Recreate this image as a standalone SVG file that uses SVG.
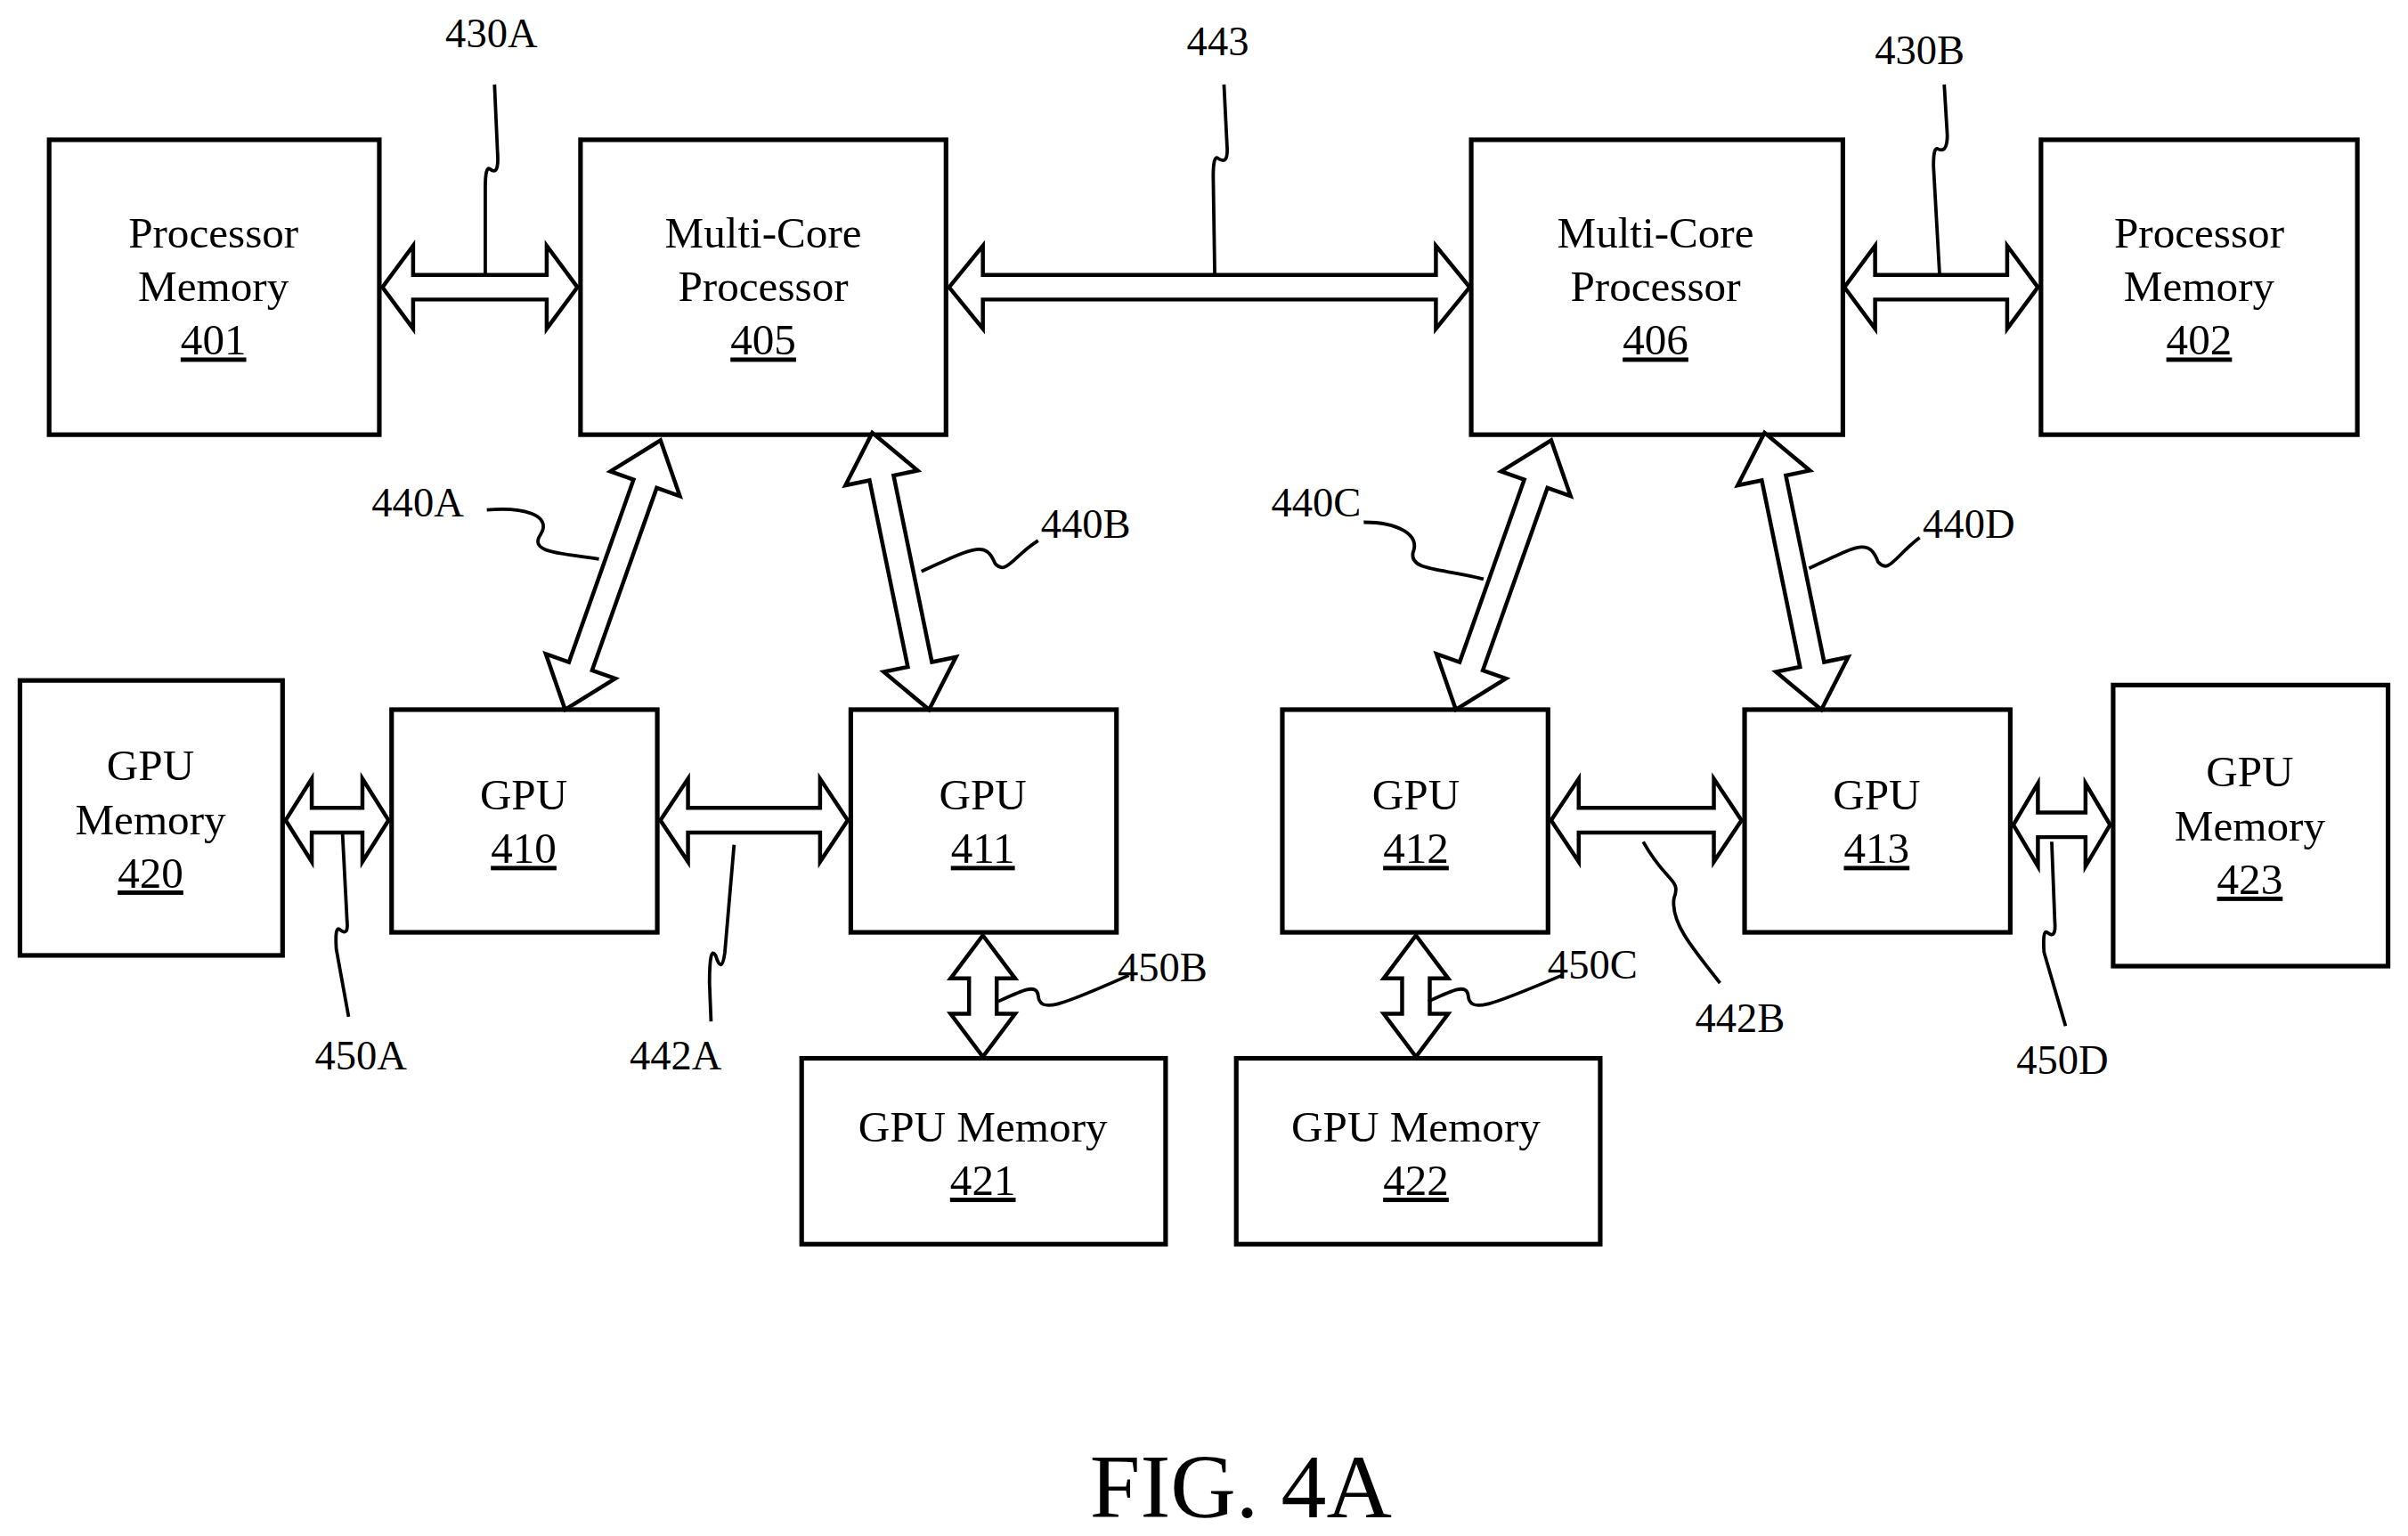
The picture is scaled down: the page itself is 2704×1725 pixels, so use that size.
<svg xmlns="http://www.w3.org/2000/svg" width="2704" height="1725" viewBox="0 0 2704 1725">
<style>
.b{fill:#fff;stroke:#000;stroke-width:3}
.a{fill:#fff;stroke:#000;stroke-width:2.6;stroke-linejoin:miter}
.l{fill:none;stroke:#000;stroke-width:2.2}
text{font-family:"Liberation Serif","Times New Roman",serif;font-size:28.5px;text-anchor:middle;fill:#000}
.n{font-size:27px}
</style>
<rect width="2704" height="1725" fill="#fff"/>
<g transform="scale(1.7245,1.725)">
<g id="n401"><rect class="b" x="32" y="91" width="215" height="192"/><text x="139" y="161">Processor</text><text x="139" y="196">Memory</text><text x="139" y="231" text-decoration="underline">401</text></g>
<g id="n405"><rect class="b" x="378" y="91" width="238" height="192"/><text x="497" y="161">Multi-Core</text><text x="497" y="196">Processor</text><text x="497" y="231" text-decoration="underline">405</text></g>
<g id="n406"><rect class="b" x="958" y="91" width="242" height="192"/><text x="1078" y="161">Multi-Core</text><text x="1078" y="196">Processor</text><text x="1078" y="231" text-decoration="underline">406</text></g>
<g id="n402"><rect class="b" x="1329" y="91" width="206" height="192"/><text x="1432" y="161">Processor</text><text x="1432" y="196">Memory</text><text x="1432" y="231" text-decoration="underline">402</text></g>
<g id="n420"><rect class="b" x="13" y="443" width="171" height="179"/><text x="98" y="508">GPU</text><text x="98" y="543">Memory</text><text x="98" y="578" text-decoration="underline">420</text></g>
<g id="n410"><rect class="b" x="255" y="462" width="173" height="145"/><text x="341" y="527">GPU</text><text x="341" y="562" text-decoration="underline">410</text></g>
<g id="n411"><rect class="b" x="554" y="462" width="173" height="145"/><text x="640" y="527">GPU</text><text x="640" y="562" text-decoration="underline">411</text></g>
<g id="n412"><rect class="b" x="835" y="462" width="173" height="145"/><text x="922" y="527">GPU</text><text x="922" y="562" text-decoration="underline">412</text></g>
<g id="n413"><rect class="b" x="1136" y="462" width="173" height="145"/><text x="1222" y="527">GPU</text><text x="1222" y="562" text-decoration="underline">413</text></g>
<g id="n423"><rect class="b" x="1376" y="446" width="179" height="183"/><text x="1465" y="512">GPU</text><text x="1465" y="547">Memory</text><text x="1465" y="582" text-decoration="underline">423</text></g>
<g id="n421"><rect class="b" x="522" y="689" width="237" height="121"/><text x="640" y="743">GPU Memory</text><text x="640" y="778" text-decoration="underline">421</text></g>
<g id="n422"><rect class="b" x="805" y="689" width="237" height="121"/><text x="922" y="743">GPU Memory</text><text x="922" y="778" text-decoration="underline">422</text></g>
<g id="connectors">
<polygon class="a" transform="translate(249,187)" points="0,0 20,-27 20,-8 107,-8 107,-27 127,0 107,27 107,8 20,8 20,27"/>
<polygon class="a" transform="translate(618,187)" points="0,0 22,-27 22,-8 317,-8 317,-27 339,0 317,27 317,8 22,8 22,27"/>
<polygon class="a" transform="translate(1201,187)" points="0,0 20,-27 20,-8 106,-8 106,-27 126,0 106,27 106,8 20,8 20,27"/>
<polygon class="a" transform="translate(368,462) rotate(-70.5)" points="0,0 30,-24 30,-8 156,-8 156,-24 186,0 156,24 156,8 30,8 30,24"/>
<polygon class="a" transform="translate(605,462) rotate(-101.6)" points="0,0 30,-24 30,-8 154,-8 154,-24 184,0 154,24 154,8 30,8 30,24"/>
<polygon class="a" transform="translate(948,462) rotate(-70.5)" points="0,0 30,-24 30,-8 156,-8 156,-24 186,0 156,24 156,8 30,8 30,24"/>
<polygon class="a" transform="translate(1186,462) rotate(-101.6)" points="0,0 30,-24 30,-8 154,-8 154,-24 184,0 154,24 154,8 30,8 30,24"/>
<polygon class="a" transform="translate(430,534)" points="0,0 18,-27 18,-8 104,-8 104,-27 122,0 104,27 104,8 18,8 18,27"/>
<polygon class="a" transform="translate(1010,534)" points="0,0 18,-27 18,-8 106,-8 106,-27 124,0 106,27 106,8 18,8 18,27"/>
<polygon class="a" transform="translate(186,534)" points="0,0 17,-27 17,-8 50,-8 50,-27 67,0 50,27 50,8 17,8 17,27"/>
<polygon class="a" transform="translate(1311,537)" points="0,0 16,-27 16,-8 47,-8 47,-27 63,0 47,27 47,8 16,8 16,27"/>
<polygon class="a" transform="translate(640,609) rotate(90)" points="0,0 28,-21 28,-9 51,-9 51,-21 79,0 51,21 51,9 28,9 28,21"/>
<polygon class="a" transform="translate(922,609) rotate(90)" points="0,0 28,-21 28,-9 51,-9 51,-21 79,0 51,21 51,9 28,9 28,21"/>
<path class="l" d="M322,55 L324,100 Q325,115 319,110 Q316,108 316,122 L316,179"/>
<path class="l" d="M797,55 L799,95 Q800,108 793,103 Q790,101 790,115 L791,179"/>
<path class="l" d="M1266,55 L1268,88 Q1268,100 1262,97 Q1259,95 1259,108 L1263,179"/>
<path class="l" d="M317,332 C340,330 360,335 352,348 C344,360 365,360 390,364"/>
<path class="l" d="M676,352 C660,362 655,375 648,367 C642,352 635,356 600,372"/>
<path class="l" d="M888,340 C910,340 925,348 920,360 C918,372 940,370 966,377"/>
<path class="l" d="M1250,350 C1234,362 1230,374 1223,366 C1217,350 1210,355 1178,370"/>
<path class="l" d="M223,542 L226,600 Q227,610 221,605 Q218,603 219,618 L227,662"/>
<path class="l" d="M478,550 L472,620 Q470,635 466,622 Q462,615 462,640 L463,665"/>
<path class="l" d="M650,652 C665,645 675,640 676,648 C677,660 690,655 735,635"/>
<path class="l" d="M930,652 C945,645 955,640 956,648 C957,660 970,655 1017,635"/>
<path class="l" d="M1070,548 C1085,575 1095,572 1090,585 C1088,600 1100,615 1120,640"/>
<path class="l" d="M1336,548 L1338,600 Q1339,612 1333,607 Q1330,605 1331,620 L1345,668"/>
</g>
<g id="labels">
<text class="n" x="320" y="31">430A</text>
<text class="n" x="793" y="36">443</text>
<text class="n" x="1250" y="42">430B</text>
<text class="n" x="272" y="336">440A</text>
<text class="n" x="707" y="350">440B</text>
<text class="n" x="857" y="336">440C</text>
<text class="n" x="1282" y="350">440D</text>
<text class="n" x="235" y="696">450A</text>
<text class="n" x="440" y="696">442A</text>
<text class="n" x="757" y="639">450B</text>
<text class="n" x="1037" y="637">450C</text>
<text class="n" x="1133" y="672">442B</text>
<text class="n" x="1343" y="699">450D</text>
<text x="808" y="988" style="font-size:59px">FIG. 4A</text>
</g>
</g>
</svg>
